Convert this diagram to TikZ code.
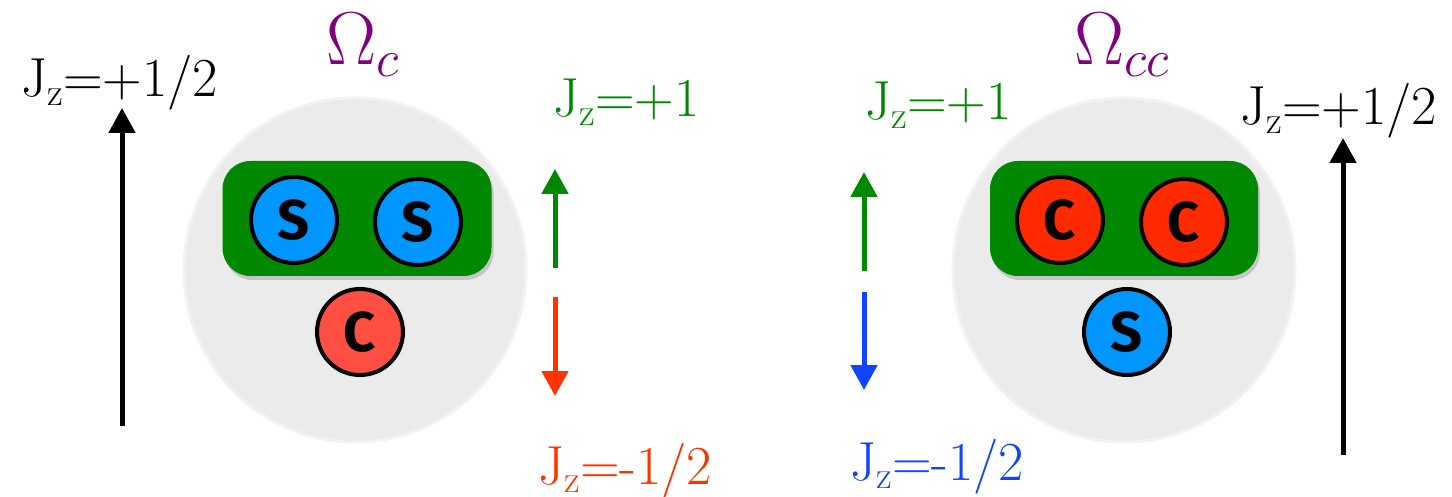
\RequirePackage{fix-cm}
\documentclass[tikz,border=0pt]{standalone}
\usepackage{fontspec}
\newfontfamily\ballfont{Fira Sans}
\usetikzlibrary{arrows.meta,shadows}
\definecolor{ggreen}{RGB}{0,136,0}
\definecolor{sblue}{RGB}{0,150,255}
\definecolor{csalmon}{RGB}{255,78,66}
\definecolor{cred}{RGB}{255,42,0}
\definecolor{ared}{RGB}{255,51,0}
\definecolor{ablue}{RGB}{17,68,255}
\definecolor{omega}{RGB}{128,0,128}
\definecolor{shell}{RGB}{235,235,235}
\definecolor{shellrim}{RGB}{242,242,242}
\tikzset{
  bigtext/.style={font=\fontsize{55}{62}\selectfont, inner sep=0pt, anchor=base west},
  omegatext/.style={font=\fontsize{75}{85}\selectfont, inner sep=0pt, text=omega, anchor=base west},
  pairbox/.style={fill=ggreen, rounded corners=28pt, drop shadow={opacity=0.35, shadow xshift=2pt, shadow yshift=-4pt}},
  quark/.style={circle, draw=black, line width=4pt, minimum size=86pt, inner sep=0pt, font=\ballfont\bfseries\fontsize{56}{56}\selectfont},
  bigarrow/.style={line width=5pt, -{Triangle[length=25pt,width=26pt]}},
}
\begin{document}
\begin{tikzpicture}[x=1pt,y=-1pt]
\useasboundingbox (0,0) rectangle (1452,497);
% ---------- left baryon ----------
\fill[shell] (355,270) ellipse [x radius=172pt, y radius=173pt];
\draw[shellrim, line width=3pt] (355,270) ellipse [x radius=171pt, y radius=172pt];
\node[pairbox, minimum width=269pt, minimum height=115pt] (Lpair) at (357,218.5) {};
\node[quark, fill=sblue] (Ls1) at (294,220) {S};
\node[quark, fill=sblue] (Ls2) at (418,222) {S};
\node[quark, fill=csalmon] (Lc) at (360,332) {C};
\node[omegatext] (Lom) at (326,65) {$\Omega_c$};
\node[bigtext] (Ljtot) at (21,97) {J\(_\mathrm{z}\)=+1/2};
\coordinate (Labot) at (122,426);
\coordinate (Latop) at (122,108);
\draw[bigarrow, black] (Labot) -- (Latop);
\node[bigtext, text=ggreen] (Ljp) at (553,117) {J\(_\mathrm{z}\)=+1};
\coordinate (Lgb) at (555,268);
\coordinate (Lgt) at (555,169);
\draw[bigarrow, ggreen] (Lgb) -- (Lgt);
\coordinate (Lrt) at (555,297);
\coordinate (Lrb) at (555,396);
\draw[bigarrow, ared] (Lrt) -- (Lrb);
\node[bigtext, text=ared] (Ljm) at (538,484) {J\(_\mathrm{z}\)=-1/2};
% ---------- right baryon ----------
\fill[shell] (1124,270) ellipse [x radius=172pt, y radius=173pt];
\draw[shellrim, line width=3pt] (1124,270) ellipse [x radius=171pt, y radius=172pt];
\node[pairbox, minimum width=268pt, minimum height=115pt] (Rpair) at (1124,218.5) {};
\node[quark, fill=cred] (Rc1) at (1060,220) {C};
\node[quark, fill=cred] (Rc2) at (1184,222) {C};
\node[quark, fill=sblue] (Rs) at (1127,332) {S};
\node[omegatext] (Rom) at (1074,65) {$\Omega_{cc}$};
\node[bigtext, text=ggreen] (Rjp) at (865,120) {J\(_\mathrm{z}\)=+1};
\coordinate (Rgb) at (864,271);
\coordinate (Rgt) at (864,172);
\draw[bigarrow, ggreen] (Rgb) -- (Rgt);
\coordinate (Rbt) at (864,292);
\coordinate (Rbb) at (864,390);
\draw[bigarrow, ablue] (Rbt) -- (Rbb);
\node[bigtext, text=ablue] (Rjm) at (850,480) {J\(_\mathrm{z}\)=-1/2};
\node[bigtext] (Rjtot) at (1240,125) {J\(_\mathrm{z}\)=+1/2};
\coordinate (Rabot) at (1343,455);
\coordinate (Ratop) at (1343,138);
\draw[bigarrow, black] (Rabot) -- (Ratop);
\end{tikzpicture}
\end{document}
